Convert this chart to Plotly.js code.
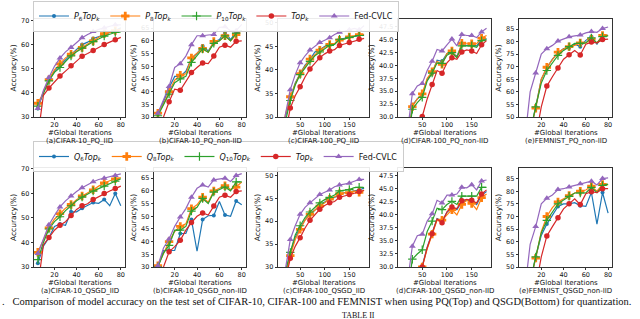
<!DOCTYPE html>
<html><head><meta charset="utf-8">
<script src="https://cdn.plot.ly/plotly-3.0.1.min.js"></script>
<style>html,body{margin:0;padding:0;background:#fff;overflow:hidden}#chart{width:640px;height:319px}</style>
</head><body><div id="chart"></div>
<script>
// ---------- x values ----------
const xC10 = [5,10,15,20,25,30,35,40,45,50,55,60,65,70,75,80];
const xC100 = [10,20,30,40,50,60,70,80,90,100,110,120,130,140,150,160,170,180];
const xFEM = [5,10,15,20,25,30,35,40,45,50,55,60,65,70,75,80];

// ---------- Row 1 : PQ ----------
// (a) CIFAR-10 PQ IID
const pqA_P6   = [33.5,40.5,45.5,49,51.5,53.8,55.7,58,60,61,62.5,63.2,64,65,65.8,67];
const pqA_P8   = [35.7,40,45.5,49.5,52,54.5,56,57.5,58.8,60.2,61.5,63,64.5,65,65.8,66.5];
const pqA_P10  = [34.5,40,45,48.5,50.5,53,55.3,57,58.5,60,61.2,62.3,63.5,64.3,65,65.3];
const pqA_Top  = [22,39,42,44.5,47,49,51.2,53.3,55.2,56.3,57.6,58.8,60,61,62,63];
const pqA_CVLC = [33.5,41,46.4,51,54.4,57,58.8,61,62.8,64.2,65.4,66.3,66.9,67.5,68.2,68.2];
// (b) CIFAR-10 PQ non-IID
const pqB_P6   = [31.5,36,41.5,46,46,48,53,55,58,56,59.5,60.5,63.5,60.5,63.5,64];
const pqB_P8   = [31.5,35,40,44.5,46.5,47,53.3,55,57,55.5,59.8,60,62,60,62.5,64];
const pqB_P10  = [30.5,35,39,43.5,45,46,51.5,54,56.8,55.5,59,60,62,60,63,64];
const pqB_Top  = [26,30,36,41,40.5,44,47.5,49.5,51.3,51,54,57.5,58.3,57.5,59.8,60];
const pqB_CVLC = [31.5,37,42,49.5,51,54,58.5,62,62,62.3,62.5,65.3,65.5,64,64,66.5];
// (c) CIFAR-100 PQ IID
const pqC_P6   = [24,30,34,37.2,39.2,41,42.2,43.8,44.3,45,45.2,45.5,46.5,46.7,47,47.2,47.4,47.5];
const pqC_P8   = [24,30.5,34.3,37,39.2,40.8,42.3,43.2,44.2,44.8,45.4,45.6,46.3,46.5,47,47.2,47.5,47.4];
const pqC_P10  = [23,29,33.5,36.8,39,40.5,41.8,43,43.8,44.5,45.2,45.4,46.5,46.6,46.9,47.1,47.3,47.3];
const pqC_Top  = [20,26.5,31.9,34.5,36.4,38.5,40.2,41.5,42.6,43.4,44,44.3,45.2,45.5,45.8,46.1,46.5,46.7];
const pqC_CVLC = [20,30.5,35.8,39,41.5,43,44.2,45,45.8,46.3,46.8,47.5,48,48.2,48.5,48.8,48.5,49.4];
// (d) CIFAR-100 PQ non-IID
const pqD_P6   = [18,25,32.3,33.5,34.3,37.3,38.5,41,40.8,42.3,42.5,41.8,44,43.9,44,43.8,45,45.2];
const pqD_P8   = [18,25,32,33.5,34.5,37.5,38.8,40.8,40.2,42.3,42.8,41.5,44.3,44.3,44.2,44.2,45.3,45.8];
const pqD_P10  = [17,24,31.5,32.8,33.8,37,38.5,40.5,40.4,42,42.5,41.5,43.8,43.8,43.8,43.5,44.8,45];
const pqD_Top  = [15,20,22,24,30.1,33.5,36.3,39,38.5,40.5,41.5,41.2,42.6,43,42.8,42.3,44,44.8];
const pqD_CVLC = [20,27,34.5,36,36.5,39,40.8,43.1,42.8,44,45.1,43.8,46,45.8,45.8,45.4,46.5,47.2];
// (e) FEMNIST PQ non-IID
const pqE_P6   = [30,44,54,65,69.5,73,75.5,77.2,77.5,79,78,80.5,82,79,82.5,82.5];
const pqE_P8   = [30,44,53.5,65,69.8,73,75.8,77,78,78.5,79.5,79.5,81,79.5,82.5,82.5];
const pqE_P10  = [30,44,54,63.5,68.5,71.5,74.5,76.5,78,79.3,79.3,79.5,81.5,79.5,82,82.3];
const pqE_Top  = [20,30,42,54,62.3,66,69.5,73,74.8,76.5,74.7,79,79.8,79.5,80.8,81];
const pqE_CVLC = [40,60,67.5,75,77.2,78.5,80.2,81,81.9,82.3,82.6,83.5,84,83.7,85.2,85.8];

// ---------- Row 2 : QSGD ----------
// (a) CIFAR-10 QSGD IID
const qA_Q6   = [31.5,38.5,42,46.5,47.5,47,52.5,52.5,54,55,56.3,56,57.5,55,60,55];
const qA_Q8   = [36,41,46,49.5,51.8,54,55.5,57.5,59,60.2,61.5,63,64.3,65.2,66,66.5];
const qA_Q10  = [33,40,45.5,48.5,50.5,53,55,57,58.5,59.8,61,62,63,64,65,66];
const qA_Top  = [22,39,42,45,47,48.5,51,53.5,55,55.8,57.5,58.7,60,61,62,63];
const qA_CVLC = [35.5,41,47.2,51,54.5,57,59,60.8,62.3,63.7,64.8,65.7,66.2,66.8,67.3,68];
// (b) CIFAR-10 QSGD non-IID
const qB_Q6   = [30,36.5,36.5,36.5,43.2,43.2,48.7,36.2,48.7,50.2,50.3,55.8,50.5,50,56,54.5];
const qB_Q8   = [30.5,35.5,40,44,46,47,53,54.5,57.5,55.5,60,61,62,60.5,61.5,63.5];
const qB_Q10  = [30,35.5,38.5,44.5,44.5,46,52,53.5,57,55,59.5,60.5,61.5,60,63.5,63.5];
const qB_Top  = [26,30,36,38,40.5,44.5,47.5,50,51.3,50.5,54,57.5,58.3,57.5,59.7,60];
const qB_CVLC = [30.5,37.5,41,46,49.7,53,57.5,61,62.3,61.5,64.3,64.8,65,63.7,66,66.8];
// (c) CIFAR-100 QSGD IID
const qC_Q6   = [23,28.5,33,36.5,38.5,40.3,41.5,42.5,43.3,44.2,44.8,45.2,45.8,46.2,46.3,46.6,46.8,47.2];
const qC_Q8   = [22,28,32.5,36,38.2,40.2,41.5,42.5,43.3,44,44.8,45.3,46,46.2,46.2,46.6,46.3,46.8];
const qC_Q10  = [23,29,33.2,37,39,40.8,42,43,44,44.7,45.2,45.7,46.6,46.8,46.9,47.3,47.4,47.3];
const qC_Top  = [20,27,31.9,34.5,36.4,38.5,40.2,41.5,42.6,43.4,44,44.3,45.2,45.5,45.8,46.1,46.5,46.7];
const qC_CVLC = [20,29.5,36,39,41.5,43,44,45,45.8,46.3,46.8,47.5,47.9,48.1,48.3,48.7,49.1,49.1];
// (d) CIFAR-100 QSGD non-IID
const qD_Q6   = [15,20,22,24,30.2,33.8,36.6,39.3,38.8,40.5,41.5,41,42.5,42.8,42.8,42,43.8,44.5];
const qD_Q8   = [15,20,22,24,30,33.5,36.3,39,39,40,41,40,42,42.8,42.2,41,43.3,44];
const qD_Q10  = [18,25,31.5,32.5,33.3,36.8,38.8,41.3,41,42,42.6,42,43.6,43.6,43.6,43.6,45.3,45.3];
const qD_Top  = [15,20,22,24,30,33.7,36.4,39.2,38.5,40.6,41.5,41.2,42.7,43,42.8,42.3,44,44.8];
const qD_CVLC = [20,27,34,36,36.3,38.8,40.2,42.8,42.3,43.8,43.8,44,45.3,45.2,45.8,44.8,46.5,46.7];
// (e) FEMNIST QSGD non-IID
const qE_Q6   = [30,44,54,62.5,67,70.5,74,75,75,75.5,74.3,74,79.5,67,79.5,71.3];
const qE_Q8   = [30,44,53.5,64,70,73.5,75.8,77,78.3,79.3,80,80.5,82,80,82.7,82.5];
const qE_Q10  = [30,44,54,63.5,68.5,72,75,76.5,78,79.3,79.3,79.3,81.5,79.5,82.3,82.8];
const qE_Top  = [20,30,42,54,62.3,66,69.5,73,75,77,74.7,79,79.8,79.5,81,81];
const qE_CVLC = [40,59,66,75,77.2,78.5,80.7,81,81.7,82.3,83,83.5,84,82.5,85,85.3];

// ---------- labels ----------
const namesPQ = ['<i>P</i><sub>6</sub><i>Top</i><sub><i>k</i></sub>','<i>P</i><sub>8</sub><i>Top</i><sub><i>k</i></sub>','<i>P</i><sub>10</sub><i>Top</i><sub><i>k</i></sub>','<i>Top</i><sub><i>k</i></sub>','Fed-CVLC'];
const namesQ  = ['<i>Q</i><sub>6</sub><i>Top</i><sub><i>k</i></sub>','<i>Q</i><sub>8</sub><i>Top</i><sub><i>k</i></sub>','<i>Q</i><sub>10</sub><i>Top</i><sub><i>k</i></sub>','<i>Top</i><sub><i>k</i></sub>','Fed-CVLC'];
const captions = ['(a)CIFAR-10_PQ_IID','(b)CIFAR-10_PQ_non-IID','(c)CIFAR-100_PQ_IID','(d)CIFAR-100_PQ_non-IID','(e)FEMNIST_PQ_non-IID',
                  '(a)CIFAR-10_QSGD_IID','(b)CIFAR-10_QSGD_non-IID','(c)CIFAR-100_QSGD_IID','(d)CIFAR-100_QSGD_non-IID','(e)FEMNIST_QSGD_non-IID'];
const xTitle = '#Global Iterations';
const yTitle = 'Accuracy(%)';

// ---------- styling ----------
const colors = ['#1f77b4','#ff7f0e','#2ca02c','#d62728','#9467bd'];
const symbols = ['circle','cross','cross-thin','circle','triangle-up'];
const msizes = [4,7,6,5.5,6];

const panels = [
  {x:xC10, s:[pqA_P6,pqA_P8,pqA_P10,pqA_Top,pqA_CVLC], yr:[30,70.6], dt:10, xr:[1.5,83.8], xt:[20,40,60,80]},
  {x:xC10, s:[pqB_P6,pqB_P8,pqB_P10,pqB_Top,pqB_CVLC], yr:[30,68.6], dt:5, xr:[1.5,83.8], xt:[20,40,60,80]},
  {x:xC100,s:[pqC_P6,pqC_P8,pqC_P10,pqC_Top,pqC_CVLC], yr:[30,50.8], dt:5, xr:[5,190], xt:[50,100,150]},
  {x:xC100,s:[pqD_P6,pqD_P8,pqD_P10,pqD_Top,pqD_CVLC], yr:[30,49], dt:2.5, xr:[1,189], xt:[50,100,150], fmt:'.1f'},
  {x:xFEM, s:[pqE_P6,pqE_P8,pqE_P10,pqE_Top,pqE_CVLC], yr:[50,89], dt:5, xr:[0,83.5], xt:[20,40,60,80]},
  {x:xC10, s:[qA_Q6,qA_Q8,qA_Q10,qA_Top,qA_CVLC], yr:[30,70.4], dt:10, xr:[1.5,83.8], xt:[20,40,60,80]},
  {x:xC10, s:[qB_Q6,qB_Q8,qB_Q10,qB_Top,qB_CVLC], yr:[30,69], dt:5, xr:[1.5,83.8], xt:[20,40,60,80]},
  {x:xC100,s:[qC_Q6,qC_Q8,qC_Q10,qC_Top,qC_CVLC], yr:[30,51.6], dt:5, xr:[5,190], xt:[50,100,150]},
  {x:xC100,s:[qD_Q6,qD_Q8,qD_Q10,qD_Top,qD_CVLC], yr:[30,49], dt:2.5, xr:[1,189], xt:[50,100,150], fmt:'.1f'},
  {x:xFEM, s:[qE_Q6,qE_Q8,qE_Q10,qE_Top,qE_CVLC], yr:[50,89.2], dt:5, xr:[0,83.5], xt:[20,40,60,80]}
];

const W = 640, H = 319;
const colPx = [[34,125],[154,246],[278,369],[398,491],[519,612]];
const rowPx = [[19,117],[168,267]];
const xtY = [132.5, 282.5];
const capY = [141, 291];

const traces = [];
const layout = {
  width: W, height: H, margin:{l:0,r:0,t:0,b:0},
  paper_bgcolor:'#fff', plot_bgcolor:'#fff',
  font:{family:'DejaVu Sans', color:'#111', size:7},
  showlegend:true,
  annotations:[]
};

panels.forEach((p, i) => {
  const row = Math.floor(i/5), col = i%5;
  const ax = i===0 ? '' : String(i+1);
  const xa = 'x'+ax, ya = 'y'+ax;
  p.s.forEach((vals, k) => {
    const mk = p.x.map((_, j) => j%2===0);
    const mc = mk.map(v => v ? colors[k] : 'rgba(0,0,0,0)');
    traces.push({
      type:'scatter', mode:'lines+markers', x:p.x, y:vals,
      xaxis:xa, yaxis:ya,
      name: row===0 ? namesPQ[k] : namesQ[k],
      legend: row===0 ? 'legend' : 'legend2',
      showlegend: col===0,
      line:{color:colors[k], width:1.2},
      marker:{symbol:symbols[k], size:msizes[k], color:mc,
              line:{color: k===2 ? mc : 'rgba(0,0,0,0)', width: k===2 ? 1.2 : 0}},
      hoverinfo:'skip'
    });
  });
  const [l,r] = colPx[col], [t,b] = rowPx[row];
  layout['xaxis'+ax] = {
    domain:[l/W, r/W], anchor:ya, range:p.xr, tickvals:p.xt,
    showline:true, mirror:true, linecolor:'#000', linewidth:0.8,
    ticks:'outside', ticklen:2.5, tickwidth:0.8, tickcolor:'#000',
    ticklabelstandoff:-1,
    showgrid:false, zeroline:false, tickfont:{size:6.5}
  };
  layout['yaxis'+ax] = {
    domain:[1-b/H, 1-t/H], anchor:xa, range:p.yr, dtick:p.dt, tick0:0,
    tickformat:p.fmt || '',
    showline:true, mirror:true, linecolor:'#000', linewidth:0.8,
    ticks:'outside', ticklen:2.5, tickwidth:0.8, tickcolor:'#000',
    showgrid:false, zeroline:false, tickfont:{size:6.5},
    title:{text:yTitle, font:{size:7.5}, standoff:3}
  };
  layout.annotations.push({
    xref:'paper', yref:'paper', x:(l+r)/2/W, y:1-xtY[row]/H,
    xanchor:'center', yanchor:'middle', showarrow:false,
    text:xTitle, font:{size:7, color:'#111'}
  });
  layout.annotations.push({
    xref:'paper', yref:'paper', x:(l+r)/2/W, y:1-capY[row]/H,
    xanchor:'center', yanchor:'middle', showarrow:false,
    text:captions[i], font:{size:7, color:'#111'}
  });
});

const legBase = {
  orientation:'h', xanchor:'left', yanchor:'top', x:33/W,
  bgcolor:'rgba(255,255,255,0.9)', bordercolor:'#cccccc', borderwidth:1,
  font:{size:8, family:'DejaVu Sans', color:'#111'}, itemwidth:30, tracegroupgap:0
};
layout.legend  = Object.assign({}, legBase, {y:1-0.5/H});
layout.legend2 = Object.assign({}, legBase, {y:1-141/H});

layout.annotations.push({
  xref:'paper', yref:'paper', x:0, y:1-302/H, xanchor:'left', yanchor:'middle', showarrow:false,
  text:'.\u00a0\u00a0\u00a0Comparison of model accuracy on the test set of CIFAR-10, CIFAR-100 and FEMNIST when using PQ(Top) and QSGD(Bottom) for quantization.',
  font:{family:'Liberation Serif', size:10.5, color:'#111'}
});
layout.annotations.push({
  xref:'paper', yref:'paper', x:358/W, y:1-315/H, xanchor:'center', yanchor:'middle', showarrow:false,
  text:'TABLE II', font:{family:'Liberation Serif', size:8, color:'#111'}
});

Plotly.newPlot('chart', traces, layout, {staticPlot:true, displayModeBar:false});
</script>
</body></html>
